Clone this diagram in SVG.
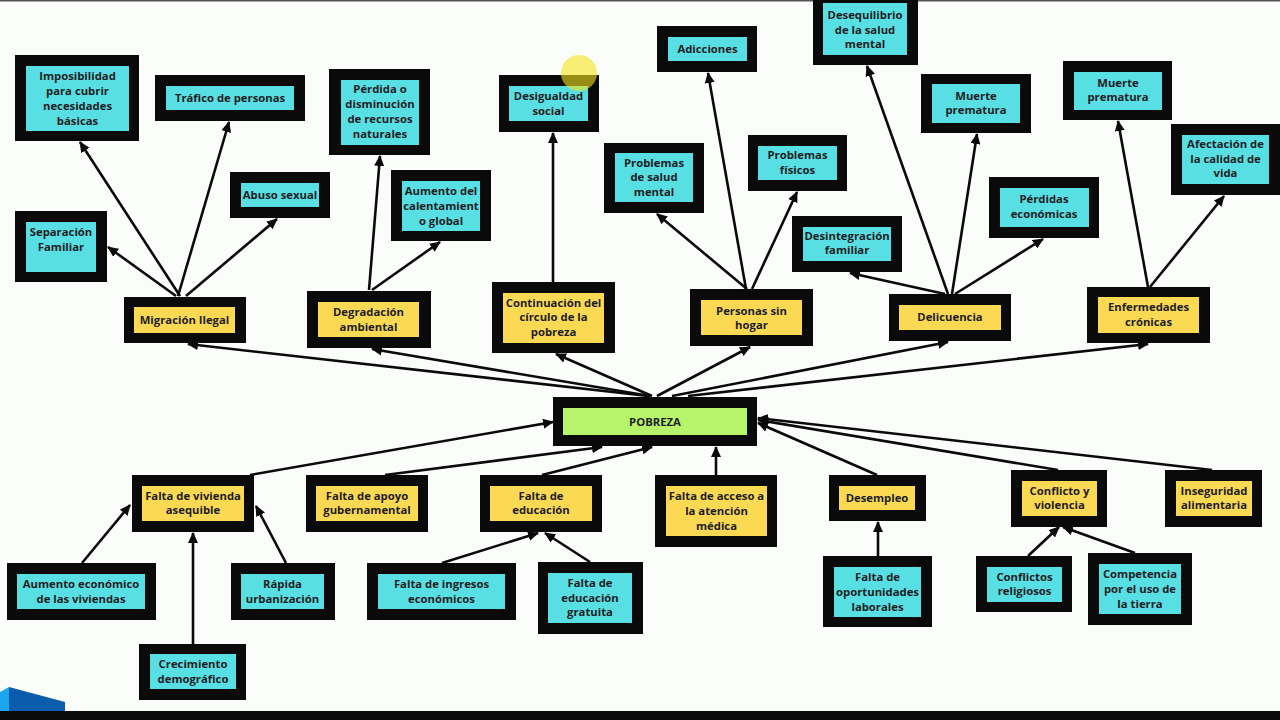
<svg xmlns="http://www.w3.org/2000/svg" width="1280" height="720" viewBox="0 0 1280 720">
<defs>
<style>
.o{fill:#0a0a0a}
.c{fill:#58dfe3}
.y{fill:#fbd952}
.g{fill:#b8f36c}
text{font-family:"Open Sans","Liberation Sans",sans-serif;font-weight:700;font-size:11.3px;fill:#1d1d24;text-anchor:middle}
.e{stroke:#0a0a0a;stroke-width:2.6;fill:none;marker-end:url(#ah)}
</style>
<marker id="ah" markerUnits="userSpaceOnUse" markerWidth="11" markerHeight="10" refX="10" refY="5" orient="auto" viewBox="0 0 11 10">
<path d="M0,0 L11,5 L0,10 z" fill="#0a0a0a"/>
</marker>
</defs>
<rect x="0" y="0" width="1280" height="720" fill="#fbfdfb"/>
<rect x="0" y="0" width="1280" height="1.5" fill="#555"/>

<g id="connectors">
<line class="e" x1="180" y1="296" x2="80" y2="142"/>
<line class="e" x1="178" y1="296" x2="229" y2="122"/>
<line class="e" x1="186" y1="296" x2="277" y2="219"/>
<line class="e" x1="176" y1="296" x2="108" y2="247"/>
<line class="e" x1="369" y1="290" x2="380" y2="156"/>
<line class="e" x1="372" y1="290" x2="440" y2="242"/>
<line class="e" x1="553" y1="282" x2="553" y2="133"/>
<line class="e" x1="747" y1="289" x2="657" y2="214"/>
<line class="e" x1="746" y1="289" x2="708" y2="73"/>
<line class="e" x1="752" y1="289" x2="797" y2="192"/>
<line class="e" x1="948" y1="294" x2="867" y2="66"/>
<line class="e" x1="952" y1="294" x2="977" y2="134"/>
<line class="e" x1="955" y1="294" x2="1043" y2="239"/>
<line class="e" x1="945" y1="294" x2="850" y2="273"/>
<line class="e" x1="1148" y1="287" x2="1118" y2="121"/>
<line class="e" x1="1150" y1="287" x2="1224" y2="196"/>
<line class="e" x1="648" y1="396" x2="188" y2="344"/>
<line class="e" x1="650" y1="396" x2="372" y2="349"/>
<line class="e" x1="652" y1="396" x2="556" y2="354"/>
<line class="e" x1="657" y1="396" x2="750" y2="347"/>
<line class="e" x1="672" y1="396" x2="948" y2="342"/>
<line class="e" x1="688" y1="396" x2="1148" y2="344"/>
<line class="e" x1="250" y1="475" x2="553" y2="422"/>
<line class="e" x1="385" y1="475" x2="602" y2="447"/>
<line class="e" x1="542" y1="475" x2="652" y2="447"/>
<line class="e" x1="716" y1="475" x2="716" y2="447"/>
<line class="e" x1="877" y1="475" x2="758" y2="423"/>
<line class="e" x1="1058" y1="470" x2="758" y2="420"/>
<line class="e" x1="1212" y1="470" x2="758" y2="418"/>
<line class="e" x1="82" y1="563" x2="130" y2="505"/>
<line class="e" x1="193" y1="644" x2="193" y2="533"/>
<line class="e" x1="286" y1="563" x2="256" y2="506"/>
<line class="e" x1="442" y1="563" x2="538" y2="533"/>
<line class="e" x1="590" y1="562" x2="545" y2="533"/>
<line class="e" x1="878" y1="556" x2="878" y2="522"/>
<line class="e" x1="1028" y1="556" x2="1059" y2="527"/>
<line class="e" x1="1135" y1="553" x2="1063" y2="527"/>
</g>

<g id="imposibilidad"><rect class="o" x="15" y="55" width="124" height="86"/><rect class="c" x="26" y="66" width="103" height="65"/><text x="77.5"><tspan x="77.5" y="80">Imposibilidad</tspan><tspan x="77.5" y="95">para cubrir</tspan><tspan x="77.5" y="110">necesidades</tspan><tspan x="77.5" y="125">básicas</tspan></text></g>
<g id="trafico"><rect class="o" x="155" y="75" width="150" height="46"/><rect class="c" x="166" y="86" width="128" height="24"/><text x="230" y="102">Tráfico de personas</text></g>
<g id="abuso"><rect class="o" x="230" y="172" width="100" height="46"/><rect class="c" x="241" y="183" width="78" height="24"/><text x="280" y="199">Abuso sexual</text></g>
<g id="separacion"><rect class="o" x="15" y="211" width="92" height="71"/><rect class="c" x="26" y="222" width="70" height="50"/><text><tspan x="61" y="236">Separación</tspan><tspan x="61" y="251">Familiar</tspan></text></g>
<g id="migracion"><rect class="o" x="124" y="297" width="122" height="46"/><rect class="y" x="134" y="307" width="101" height="26"/><text x="184.5" y="324">Migración Ilegal</text></g>
<g id="perdida"><rect class="o" x="329" y="69" width="101" height="86"/><rect class="c" x="341" y="80" width="78" height="65"/><text><tspan x="380" y="93">Pérdida o</tspan><tspan x="380" y="108">disminución</tspan><tspan x="380" y="123">de recursos</tspan><tspan x="380" y="138">naturales</tspan></text></g>
<g id="calentamiento"><rect class="o" x="391" y="170" width="100" height="71"/><rect class="c" x="402" y="181" width="78" height="50"/><text><tspan x="441" y="195">Aumento del</tspan><tspan x="441" y="210">calentamient</tspan><tspan x="441" y="225">o global</tspan></text></g>
<g id="desigualdad"><rect class="o" x="499" y="75" width="100" height="57"/><rect class="c" x="509" y="86" width="79" height="35"/><text><tspan x="548.5" y="100">Desigualdad</tspan><tspan x="548.5" y="115">social</tspan></text></g>
<g id="degradacion"><rect class="o" x="307" y="291" width="124" height="57"/><rect class="y" x="318" y="302" width="101" height="35"/><text><tspan x="368.5" y="316">Degradación</tspan><tspan x="368.5" y="331">ambiental</tspan></text></g>
<g id="continuacion"><rect class="o" x="492" y="282" width="123" height="71"/><rect class="y" x="503" y="293" width="101" height="50"/><text><tspan x="553.5" y="307">Continuación del</tspan><tspan x="553.5" y="321">círculo de la</tspan><tspan x="553.5" y="336">pobreza</tspan></text></g>
<g id="adicciones"><rect class="o" x="657" y="26" width="100" height="46"/><rect class="c" x="668" y="37" width="79" height="24"/><text x="707.5" y="53">Adicciones</text></g>
<g id="desequilibrio"><rect class="o" x="813" y="-2" width="105" height="67"/><rect class="c" x="823" y="3" width="84" height="52"/><text><tspan x="865" y="19">Desequilibrio</tspan><tspan x="865" y="34">de la salud</tspan><tspan x="865" y="48">mental</tspan></text></g>
<g id="problemas-salud"><rect class="o" x="604" y="143" width="100" height="70"/><rect class="c" x="615" y="153" width="78" height="49"/><text><tspan x="654" y="167">Problemas</tspan><tspan x="654" y="181">de salud</tspan><tspan x="654" y="196">mental</tspan></text></g>
<g id="problemas-fisicos"><rect class="o" x="748" y="135" width="99" height="56"/><rect class="c" x="758" y="146" width="79" height="34"/><text><tspan x="797.5" y="159">Problemas</tspan><tspan x="797.5" y="174">físicos</tspan></text></g>
<g id="desintegracion"><rect class="o" x="792" y="216" width="110" height="56"/><rect class="c" x="803" y="227" width="88" height="34"/><text><tspan x="847" y="240">Desintegración</tspan><tspan x="847" y="254">familiar</tspan></text></g>
<g id="personas"><rect class="o" x="690" y="289" width="123" height="57"/><rect class="y" x="701" y="300" width="101" height="35"/><text><tspan x="751.5" y="315">Personas sin</tspan><tspan x="751.5" y="329">hogar</tspan></text></g>
<g id="muerte1"><rect class="o" x="921" y="74" width="110" height="59"/><rect class="c" x="932" y="84" width="88" height="39"/><text><tspan x="976" y="100">Muerte</tspan><tspan x="976" y="114">prematura</tspan></text></g>
<g id="perdidas"><rect class="o" x="989" y="177" width="110" height="61"/><rect class="c" x="1000" y="188" width="89" height="39"/><text><tspan x="1044" y="203">Pérdidas</tspan><tspan x="1044" y="218">económicas</tspan></text></g>
<g id="muerte2"><rect class="o" x="1063" y="61" width="109" height="59"/><rect class="c" x="1074" y="72" width="88" height="38"/><text><tspan x="1118" y="87">Muerte</tspan><tspan x="1118" y="101">prematura</tspan></text></g>
<g id="afectacion"><rect class="o" x="1171" y="124" width="109" height="71"/><rect class="c" x="1182" y="135" width="87" height="49"/><text><tspan x="1225.5" y="148">Afectación de</tspan><tspan x="1225.5" y="163">la calidad de</tspan><tspan x="1225.5" y="177">vida</tspan></text></g>
<g id="delicuencia"><rect class="o" x="889" y="294" width="122" height="47"/><rect class="y" x="899" y="305" width="102" height="25"/><text x="950" y="321">Delicuencia</text></g>
<g id="enfermedades"><rect class="o" x="1087" y="287" width="123" height="56"/><rect class="y" x="1098" y="297" width="101" height="36"/><text><tspan x="1148.5" y="311">Enfermedades</tspan><tspan x="1148.5" y="326">crónicas</tspan></text></g>
<g id="pobreza"><rect class="o" x="553" y="397" width="204" height="49"/><rect class="g" x="563" y="408" width="184" height="27"/><text x="655" y="426">POBREZA</text></g>
<g id="vivienda"><rect class="o" x="132" y="475" width="122" height="57"/><rect class="y" x="142" y="486" width="102" height="35"/><text><tspan x="193" y="500">Falta de vivienda</tspan><tspan x="193" y="514">asequible</tspan></text></g>
<g id="apoyo"><rect class="o" x="306" y="475" width="122" height="57"/><rect class="y" x="316" y="486" width="102" height="35"/><text><tspan x="367" y="500">Falta de apoyo</tspan><tspan x="367" y="514">gubernamental</tspan></text></g>
<g id="educacion"><rect class="o" x="480" y="475" width="122" height="57"/><rect class="y" x="490" y="486" width="102" height="35"/><text><tspan x="541" y="500">Falta de</tspan><tspan x="541" y="514">educación</tspan></text></g>
<g id="acceso"><rect class="o" x="655" y="475" width="122" height="72"/><rect class="y" x="666" y="486" width="101" height="50"/><text><tspan x="716.5" y="500">Falta de acceso a</tspan><tspan x="716.5" y="515">la atención</tspan><tspan x="716.5" y="530">médica</tspan></text></g>
<g id="desempleo"><rect class="o" x="829" y="475" width="97" height="46"/><rect class="y" x="839" y="486" width="76" height="24"/><text x="877" y="502">Desempleo</text></g>
<g id="conflicto"><rect class="o" x="1011" y="470" width="96" height="57"/><rect class="y" x="1022" y="481" width="75" height="35"/><text><tspan x="1059.5" y="495">Conflicto y</tspan><tspan x="1059.5" y="509">violencia</tspan></text></g>
<g id="inseguridad"><rect class="o" x="1165" y="470" width="97" height="57"/><rect class="y" x="1176" y="481" width="76" height="35"/><text><tspan x="1214" y="495">Inseguridad</tspan><tspan x="1214" y="509">alimentaria</tspan></text></g>
<g id="aumento-economico"><rect class="o" x="7" y="563" width="149" height="57"/><rect class="c" x="17" y="574" width="128" height="35"/><text><tspan x="81" y="588">Aumento económico</tspan><tspan x="81" y="603">de las viviendas</tspan></text></g>
<g id="rapida"><rect class="o" x="231" y="563" width="104" height="57"/><rect class="c" x="241" y="574" width="83" height="35"/><text><tspan x="282.5" y="588">Rápida</tspan><tspan x="282.5" y="603">urbanización</tspan></text></g>
<g id="crecimiento"><rect class="o" x="139" y="644" width="107" height="56"/><rect class="c" x="150" y="654" width="86" height="35"/><text><tspan x="193" y="668">Crecimiento</tspan><tspan x="193" y="683">demográfico</tspan></text></g>
<g id="ingresos"><rect class="o" x="367" y="563" width="149" height="57"/><rect class="c" x="378" y="574" width="127" height="35"/><text><tspan x="441.5" y="588">Falta de ingresos</tspan><tspan x="441.5" y="603">económicos</tspan></text></g>
<g id="educacion-gratuita"><rect class="o" x="538" y="562" width="105" height="72"/><rect class="c" x="548" y="573" width="84" height="50"/><text><tspan x="590" y="587">Falta de</tspan><tspan x="590" y="602">educación</tspan><tspan x="590" y="616">gratuita</tspan></text></g>
<g id="oportunidades"><rect class="o" x="823" y="556" width="109" height="71"/><rect class="c" x="834" y="567" width="87" height="50"/><text><tspan x="877.5" y="581">Falta de</tspan><tspan x="877.5" y="596">oportunidades</tspan><tspan x="877.5" y="611">laborales</tspan></text></g>
<g id="religiosos"><rect class="o" x="976" y="556" width="96" height="56"/><rect class="c" x="987" y="567" width="75" height="35"/><text><tspan x="1024.5" y="581">Conflictos</tspan><tspan x="1024.5" y="595">religiosos</tspan></text></g>
<g id="competencia"><rect class="o" x="1088" y="553" width="104" height="72"/><rect class="c" x="1099" y="564" width="82" height="50"/><text><tspan x="1140" y="578">Competencia</tspan><tspan x="1140" y="593">por el uso de</tspan><tspan x="1140" y="608">la tierra</tspan></text></g>

<circle cx="579" cy="73" r="18" fill="#f5e51c" opacity="0.6"/>
<polygon points="0,692 9,687 9,711 0,711" fill="#1ba6ef"/>
<polygon points="9,687 65,702 65,711 9,711" fill="#0b5cad"/>
<rect x="0" y="711" width="1280" height="9" fill="#0b0b0b"/>
</svg>
